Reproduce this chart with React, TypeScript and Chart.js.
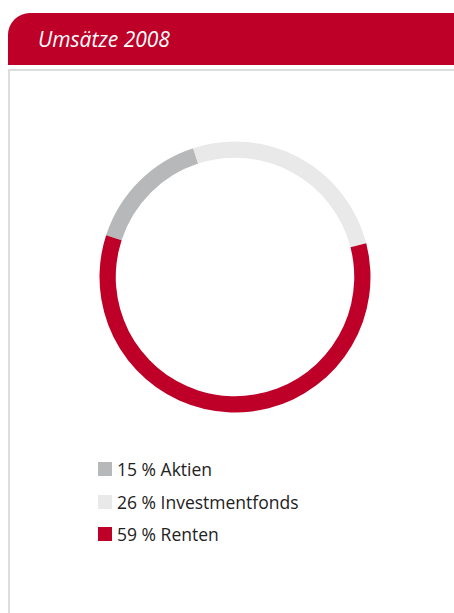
import React, { useEffect, useRef } from "react";
import { Chart, registerables } from "chart.js";

Chart.register(...registerables);

const title = "Umsätze 2008";
const categories = ["Aktien", "Investmentfonds", "Renten"];
const shares = [15, 26, 59];
const colors = ["#b7b8ba", "#e9e9e9", "#be0029"];

export default function App() {
  const ref = useRef<HTMLCanvasElement | null>(null);
  useEffect(() => {
    if (!ref.current) return;
    const chart = new Chart(ref.current, {
      type: "doughnut",
      data: {
        labels: categories,
        datasets: [
          {
            data: shares,
            backgroundColor: colors,
            borderWidth: 0,
            hoverOffset: 0,
          },
        ],
      },
      options: {
        animation: false,
        responsive: false,
        rotation: -72,
        cutout: "88%",
        layout: { padding: 14.5 },
        plugins: { legend: { display: false }, tooltip: { enabled: false } },
      },
    });
    return () => chart.destroy();
  }, []);

  const font = "'Open Sans', 'Noto Sans', sans-serif";
  return (
    <div style={{ position: "absolute", left: 8, top: 13, right: 0, height: 600, fontFamily: font }}>
      <div
        style={{
          height: 52,
          background: "#be0029",
          borderTopLeftRadius: 22,
          color: "#fff",
          fontStyle: "italic",
          fontSize: 21,
          lineHeight: "52px",
          paddingLeft: 30,
          boxSizing: "border-box",
        }}
      >
        {title}
      </div>
      <div
        style={{
          position: "absolute",
          top: 56,
          left: 0,
          right: 0,
          bottom: 0,
          borderTop: "2px solid #dddddd",
          borderLeft: "2px solid #dddddd",
        }}
      >
        <canvas
          ref={ref}
          width={300}
          height={300}
          style={{ position: "absolute", left: 74.5, top: 55.5, width: 300, height: 300 }}
        />
        <div style={{ position: "absolute", left: 88, top: 382 }}>
          {categories.map((c, i) => (
            <div key={c} style={{ display: "flex", alignItems: "center", height: 32.5, fontSize: 17.5, color: "#222" }}>
              <span style={{ display: "inline-block", width: 14, height: 14, background: colors[i], marginRight: 5 }} />
              {shares[i]} % {c}
            </div>
          ))}
        </div>
      </div>
    </div>
  );
}
